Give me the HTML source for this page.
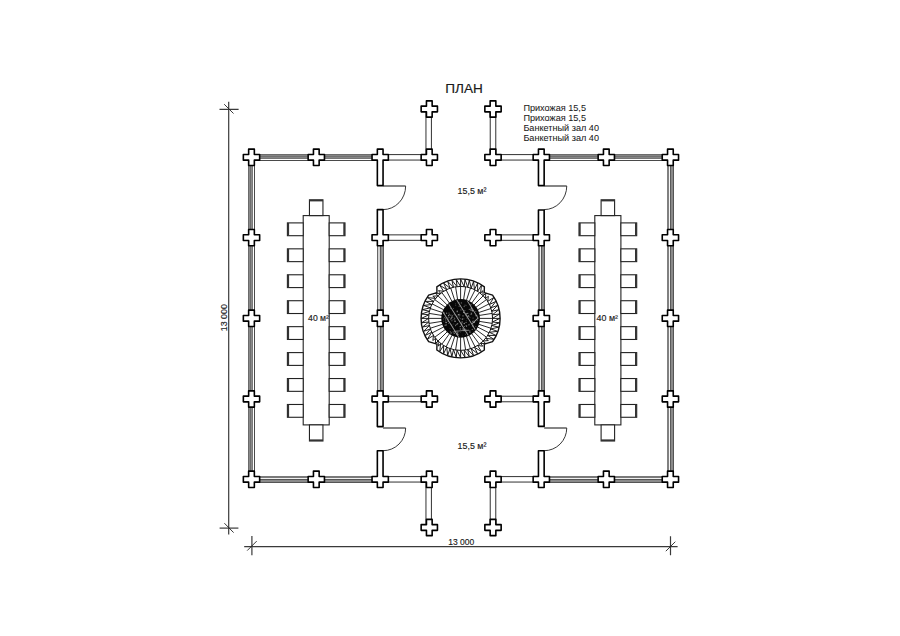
<!DOCTYPE html><html><head><meta charset="utf-8"><style>html,body{margin:0;padding:0;background:#fff;overflow:hidden;width:900px;height:636px;}svg{display:block;}</style></head><body><svg width="900" height="636" viewBox="0 0 900 636">
<rect width="900" height="636" fill="#fff"/>
<g shape-rendering="crispEdges">
<rect x="251.5" y="154" width="128.7" height="1" fill="#6c6c6c"/>
<rect x="251.5" y="155" width="128.7" height="1" fill="#858585"/>
<rect x="251.5" y="156" width="128.7" height="1" fill="#717171"/>
<rect x="251.5" y="157" width="128.7" height="1" fill="#858585"/>
<rect x="251.5" y="158" width="128.7" height="1" fill="#767676"/>
<rect x="251.5" y="160" width="128.7" height="1" fill="#4a4a4a"/>
<rect x="541.3" y="154" width="129.1" height="1" fill="#6c6c6c"/>
<rect x="541.3" y="155" width="129.1" height="1" fill="#858585"/>
<rect x="541.3" y="156" width="129.1" height="1" fill="#717171"/>
<rect x="541.3" y="157" width="129.1" height="1" fill="#858585"/>
<rect x="541.3" y="158" width="129.1" height="1" fill="#767676"/>
<rect x="541.3" y="160" width="129.1" height="1" fill="#4a4a4a"/>
<rect x="251.5" y="476" width="128.7" height="1" fill="#7a7a7a"/>
<rect x="251.5" y="477" width="128.7" height="1" fill="#7a7a7a"/>
<rect x="251.5" y="478" width="128.7" height="1" fill="#f0f0f0"/>
<rect x="251.5" y="479" width="128.7" height="1" fill="#555555"/>
<rect x="251.5" y="480" width="128.7" height="1" fill="#8a8a8a"/>
<rect x="251.5" y="481" width="128.7" height="1" fill="#8a8a8a"/>
<rect x="251.5" y="482" width="128.7" height="1" fill="#555555"/>
<rect x="541.3" y="476" width="129.1" height="1" fill="#7a7a7a"/>
<rect x="541.3" y="477" width="129.1" height="1" fill="#7a7a7a"/>
<rect x="541.3" y="478" width="129.1" height="1" fill="#f0f0f0"/>
<rect x="541.3" y="479" width="129.1" height="1" fill="#555555"/>
<rect x="541.3" y="480" width="129.1" height="1" fill="#8a8a8a"/>
<rect x="541.3" y="481" width="129.1" height="1" fill="#8a8a8a"/>
<rect x="541.3" y="482" width="129.1" height="1" fill="#555555"/>
<rect x="248" y="157.3" width="1" height="322" fill="#6a6a6a"/>
<rect x="249" y="157.3" width="1" height="322" fill="#8a8a8a"/>
<rect x="250" y="157.3" width="1" height="322" fill="#6e6e6e"/>
<rect x="251" y="157.3" width="1" height="322" fill="#8a8a8a"/>
<rect x="252" y="157.3" width="1" height="322" fill="#7a7a7a"/>
<rect x="254" y="157.3" width="1" height="322" fill="#4a4a4a"/>
<rect x="667" y="157.3" width="1" height="322" fill="#808080"/>
<rect x="668" y="157.3" width="1" height="322" fill="#808080"/>
<rect x="669" y="157.3" width="1" height="322" fill="#f5f5f5"/>
<rect x="670" y="157.3" width="1" height="322" fill="#5a5a5a"/>
<rect x="671" y="157.3" width="1" height="322" fill="#8a8a8a"/>
<rect x="672" y="157.3" width="1" height="322" fill="#8a8a8a"/>
<rect x="673" y="157.3" width="1" height="322" fill="#555555"/>
<rect x="377" y="237.6" width="1" height="161.4" fill="#666666"/>
<rect x="378" y="237.6" width="1" height="161.4" fill="#d0d0d0"/>
<rect x="379" y="237.6" width="1" height="161.4" fill="#d0d0d0"/>
<rect x="380" y="237.6" width="1" height="161.4" fill="#555555"/>
<rect x="381" y="237.6" width="1" height="161.4" fill="#8a8a8a"/>
<rect x="382" y="237.6" width="1" height="161.4" fill="#8a8a8a"/>
<rect x="383" y="237.6" width="1" height="161.4" fill="#555555"/>
<rect x="538" y="237.6" width="1" height="161.4" fill="#7a7a7a"/>
<rect x="539" y="237.6" width="1" height="161.4" fill="#7a7a7a"/>
<rect x="540" y="237.6" width="1" height="161.4" fill="#eeeeee"/>
<rect x="541" y="237.6" width="1" height="161.4" fill="#555555"/>
<rect x="542" y="237.6" width="1" height="161.4" fill="#8a8a8a"/>
<rect x="543" y="237.6" width="1" height="161.4" fill="#8a8a8a"/>
<rect x="544" y="237.6" width="1" height="161.4" fill="#555555"/>
</g>
<rect x="380.2" y="154.55" width="49.1" height="5.5" fill="#fff" stroke="#444" stroke-width="1.1"/>
<rect x="493" y="154.55" width="48.3" height="5.5" fill="#fff" stroke="#444" stroke-width="1.1"/>
<rect x="380.2" y="234.85" width="49.1" height="5.5" fill="#fff" stroke="#444" stroke-width="1.1"/>
<rect x="493" y="234.85" width="48.3" height="5.5" fill="#fff" stroke="#444" stroke-width="1.1"/>
<rect x="380.2" y="396.25" width="49.1" height="5.5" fill="#fff" stroke="#444" stroke-width="1.1"/>
<rect x="493" y="396.25" width="48.3" height="5.5" fill="#fff" stroke="#444" stroke-width="1.1"/>
<rect x="380.2" y="476.55" width="49.1" height="5.5" fill="#fff" stroke="#444" stroke-width="1.1"/>
<rect x="493" y="476.55" width="48.3" height="5.5" fill="#fff" stroke="#444" stroke-width="1.1"/>
<rect x="425.95" y="109" width="5.5" height="48.3" fill="#fff" stroke="#444" stroke-width="1.1"/>
<rect x="490.25" y="109" width="5.5" height="48.3" fill="#fff" stroke="#444" stroke-width="1.1"/>
<rect x="425.95" y="479.3" width="5.5" height="48.2" fill="#fff" stroke="#444" stroke-width="1.1"/>
<rect x="490.25" y="479.3" width="5.5" height="48.2" fill="#fff" stroke="#444" stroke-width="1.1"/>
<path d="M383.05,186H405.65" stroke="#222" stroke-width="1.1" fill="none"/>
<path d="M405.65,186A22.6,23.6 0 0 1 383.05,209.6" stroke="#222" stroke-width="0.9" fill="none"/>
<path d="M383.05,428H405.65" stroke="#222" stroke-width="1.1" fill="none"/>
<path d="M405.65,428A22.6,22.7 0 0 1 383.05,450.7" stroke="#222" stroke-width="0.9" fill="none"/>
<path d="M544.15,186H566.75" stroke="#222" stroke-width="1.1" fill="none"/>
<path d="M566.75,186A22.6,23.6 0 0 1 544.15,209.6" stroke="#222" stroke-width="0.9" fill="none"/>
<path d="M544.15,428H566.75" stroke="#222" stroke-width="1.1" fill="none"/>
<path d="M566.75,428A22.6,22.7 0 0 1 544.15,450.7" stroke="#222" stroke-width="0.9" fill="none"/>
<path d="M248.65,149.15H254.35V154.45H259.65V160.15H254.35V165.45H248.65V160.15H243.35V154.45H248.65Z" fill="#fff" stroke="#000" stroke-width="1.6" stroke-linejoin="round"/>
<path d="M313.45,149.15H319.15V154.45H324.45V160.15H319.15V165.45H313.45V160.15H308.15V154.45H313.45Z" fill="#fff" stroke="#000" stroke-width="1.6" stroke-linejoin="round"/>
<path d="M377.35,149.15H383.05V154.45H388.35V160.15H383.05V185.6H377.35V160.15H372.05V154.45H377.35Z" fill="#fff" stroke="#000" stroke-width="1.6" stroke-linejoin="round"/>
<path d="M426.45,149.15H432.15V154.45H437.45V160.15H432.15V165.45H426.45V160.15H421.15V154.45H426.45Z" fill="#fff" stroke="#000" stroke-width="1.6" stroke-linejoin="round"/>
<path d="M490.15,149.15H495.85V154.45H501.15V160.15H495.85V165.45H490.15V160.15H484.85V154.45H490.15Z" fill="#fff" stroke="#000" stroke-width="1.6" stroke-linejoin="round"/>
<path d="M538.45,149.15H544.15V154.45H549.45V160.15H544.15V185.6H538.45V160.15H533.15V154.45H538.45Z" fill="#fff" stroke="#000" stroke-width="1.6" stroke-linejoin="round"/>
<path d="M603.45,149.15H609.15V154.45H614.45V160.15H609.15V165.45H603.45V160.15H598.15V154.45H603.45Z" fill="#fff" stroke="#000" stroke-width="1.6" stroke-linejoin="round"/>
<path d="M667.55,149.15H673.25V154.45H678.55V160.15H673.25V165.45H667.55V160.15H662.25V154.45H667.55Z" fill="#fff" stroke="#000" stroke-width="1.6" stroke-linejoin="round"/>
<path d="M248.65,229.45H254.35V234.75H259.65V240.45H254.35V245.75H248.65V240.45H243.35V234.75H248.65Z" fill="#fff" stroke="#000" stroke-width="1.6" stroke-linejoin="round"/>
<path d="M377.35,209.6H383.05V234.75H388.35V240.45H383.05V245.75H377.35V240.45H372.05V234.75H377.35Z" fill="#fff" stroke="#000" stroke-width="1.6" stroke-linejoin="round"/>
<path d="M426.45,229.45H432.15V234.75H437.45V240.45H432.15V245.75H426.45V240.45H421.15V234.75H426.45Z" fill="#fff" stroke="#000" stroke-width="1.6" stroke-linejoin="round"/>
<path d="M490.15,229.45H495.85V234.75H501.15V240.45H495.85V245.75H490.15V240.45H484.85V234.75H490.15Z" fill="#fff" stroke="#000" stroke-width="1.6" stroke-linejoin="round"/>
<path d="M538.45,210H544.15V234.75H549.45V240.45H544.15V245.75H538.45V240.45H533.15V234.75H538.45Z" fill="#fff" stroke="#000" stroke-width="1.6" stroke-linejoin="round"/>
<path d="M667.55,229.45H673.25V234.75H678.55V240.45H673.25V245.75H667.55V240.45H662.25V234.75H667.55Z" fill="#fff" stroke="#000" stroke-width="1.6" stroke-linejoin="round"/>
<path d="M248.65,310.15H254.35V315.45H259.65V321.15H254.35V326.45H248.65V321.15H243.35V315.45H248.65Z" fill="#fff" stroke="#000" stroke-width="1.6" stroke-linejoin="round"/>
<path d="M377.35,310.15H383.05V315.45H388.35V321.15H383.05V326.45H377.35V321.15H372.05V315.45H377.35Z" fill="#fff" stroke="#000" stroke-width="1.6" stroke-linejoin="round"/>
<path d="M538.45,310.15H544.15V315.45H549.45V321.15H544.15V326.45H538.45V321.15H533.15V315.45H538.45Z" fill="#fff" stroke="#000" stroke-width="1.6" stroke-linejoin="round"/>
<path d="M667.55,310.15H673.25V315.45H678.55V321.15H673.25V326.45H667.55V321.15H662.25V315.45H667.55Z" fill="#fff" stroke="#000" stroke-width="1.6" stroke-linejoin="round"/>
<path d="M248.65,390.85H254.35V396.15H259.65V401.85H254.35V407.15H248.65V401.85H243.35V396.15H248.65Z" fill="#fff" stroke="#000" stroke-width="1.6" stroke-linejoin="round"/>
<path d="M377.35,390.85H383.05V396.15H388.35V401.85H383.05V426.6H377.35V401.85H372.05V396.15H377.35Z" fill="#fff" stroke="#000" stroke-width="1.6" stroke-linejoin="round"/>
<path d="M426.45,390.85H432.15V396.15H437.45V401.85H432.15V407.15H426.45V401.85H421.15V396.15H426.45Z" fill="#fff" stroke="#000" stroke-width="1.6" stroke-linejoin="round"/>
<path d="M490.15,390.85H495.85V396.15H501.15V401.85H495.85V407.15H490.15V401.85H484.85V396.15H490.15Z" fill="#fff" stroke="#000" stroke-width="1.6" stroke-linejoin="round"/>
<path d="M538.45,390.85H544.15V396.15H549.45V401.85H544.15V426.4H538.45V401.85H533.15V396.15H538.45Z" fill="#fff" stroke="#000" stroke-width="1.6" stroke-linejoin="round"/>
<path d="M667.55,390.85H673.25V396.15H678.55V401.85H673.25V407.15H667.55V401.85H662.25V396.15H667.55Z" fill="#fff" stroke="#000" stroke-width="1.6" stroke-linejoin="round"/>
<path d="M248.65,471.15H254.35V476.45H259.65V482.15H254.35V487.45H248.65V482.15H243.35V476.45H248.65Z" fill="#fff" stroke="#000" stroke-width="1.6" stroke-linejoin="round"/>
<path d="M313.45,471.15H319.15V476.45H324.45V482.15H319.15V487.45H313.45V482.15H308.15V476.45H313.45Z" fill="#fff" stroke="#000" stroke-width="1.6" stroke-linejoin="round"/>
<path d="M377.35,450.7H383.05V476.45H388.35V482.15H383.05V487.45H377.35V482.15H372.05V476.45H377.35Z" fill="#fff" stroke="#000" stroke-width="1.6" stroke-linejoin="round"/>
<path d="M426.45,471.15H432.15V476.45H437.45V482.15H432.15V487.45H426.45V482.15H421.15V476.45H426.45Z" fill="#fff" stroke="#000" stroke-width="1.6" stroke-linejoin="round"/>
<path d="M490.15,471.15H495.85V476.45H501.15V482.15H495.85V487.45H490.15V482.15H484.85V476.45H490.15Z" fill="#fff" stroke="#000" stroke-width="1.6" stroke-linejoin="round"/>
<path d="M538.45,450.7H544.15V476.45H549.45V482.15H544.15V487.45H538.45V482.15H533.15V476.45H538.45Z" fill="#fff" stroke="#000" stroke-width="1.6" stroke-linejoin="round"/>
<path d="M603.45,471.15H609.15V476.45H614.45V482.15H609.15V487.45H603.45V482.15H598.15V476.45H603.45Z" fill="#fff" stroke="#000" stroke-width="1.6" stroke-linejoin="round"/>
<path d="M667.55,471.15H673.25V476.45H678.55V482.15H673.25V487.45H667.55V482.15H662.25V476.45H667.55Z" fill="#fff" stroke="#000" stroke-width="1.6" stroke-linejoin="round"/>
<path d="M426.45,100.85H432.15V106.15H437.45V111.85H432.15V117.15H426.45V111.85H421.15V106.15H426.45Z" fill="#fff" stroke="#000" stroke-width="1.6" stroke-linejoin="round"/>
<path d="M426.45,519.35H432.15V524.65H437.45V530.35H432.15V535.65H426.45V530.35H421.15V524.65H426.45Z" fill="#fff" stroke="#000" stroke-width="1.6" stroke-linejoin="round"/>
<path d="M490.15,100.85H495.85V106.15H501.15V111.85H495.85V117.15H490.15V111.85H484.85V106.15H490.15Z" fill="#fff" stroke="#000" stroke-width="1.6" stroke-linejoin="round"/>
<path d="M490.15,519.35H495.85V524.65H501.15V530.35H495.85V535.65H490.15V530.35H484.85V524.65H490.15Z" fill="#fff" stroke="#000" stroke-width="1.6" stroke-linejoin="round"/>
<rect x="303.2" y="215.6" width="26" height="209.3" fill="#fff" stroke="#222" stroke-width="1.1"/>
<rect x="309.45" y="199.8" width="13.5" height="15.8" fill="#fff" stroke="#222" stroke-width="1.1"/>
<rect x="309.45" y="199.8" width="13.5" height="1.6" fill="#333"/>
<rect x="309.45" y="424.9" width="13.5" height="16.1" fill="#fff" stroke="#222" stroke-width="1.1"/>
<rect x="309.45" y="439.4" width="13.5" height="1.6" fill="#333"/>
<rect x="287.4" y="222.9" width="15.8" height="12.8" fill="#fff" stroke="#222" stroke-width="1.1"/>
<rect x="287.4" y="222.9" width="1.7" height="12.8" fill="#333"/>
<rect x="329.2" y="222.9" width="15.8" height="12.8" fill="#fff" stroke="#222" stroke-width="1.1"/>
<rect x="343.3" y="222.9" width="1.7" height="12.8" fill="#333"/>
<rect x="287.4" y="248.84" width="15.8" height="12.8" fill="#fff" stroke="#222" stroke-width="1.1"/>
<rect x="287.4" y="248.84" width="1.7" height="12.8" fill="#333"/>
<rect x="329.2" y="248.84" width="15.8" height="12.8" fill="#fff" stroke="#222" stroke-width="1.1"/>
<rect x="343.3" y="248.84" width="1.7" height="12.8" fill="#333"/>
<rect x="287.4" y="274.78" width="15.8" height="12.8" fill="#fff" stroke="#222" stroke-width="1.1"/>
<rect x="287.4" y="274.78" width="1.7" height="12.8" fill="#333"/>
<rect x="329.2" y="274.78" width="15.8" height="12.8" fill="#fff" stroke="#222" stroke-width="1.1"/>
<rect x="343.3" y="274.78" width="1.7" height="12.8" fill="#333"/>
<rect x="287.4" y="300.72" width="15.8" height="12.8" fill="#fff" stroke="#222" stroke-width="1.1"/>
<rect x="287.4" y="300.72" width="1.7" height="12.8" fill="#333"/>
<rect x="329.2" y="300.72" width="15.8" height="12.8" fill="#fff" stroke="#222" stroke-width="1.1"/>
<rect x="343.3" y="300.72" width="1.7" height="12.8" fill="#333"/>
<rect x="287.4" y="326.66" width="15.8" height="12.8" fill="#fff" stroke="#222" stroke-width="1.1"/>
<rect x="287.4" y="326.66" width="1.7" height="12.8" fill="#333"/>
<rect x="329.2" y="326.66" width="15.8" height="12.8" fill="#fff" stroke="#222" stroke-width="1.1"/>
<rect x="343.3" y="326.66" width="1.7" height="12.8" fill="#333"/>
<rect x="287.4" y="352.6" width="15.8" height="12.8" fill="#fff" stroke="#222" stroke-width="1.1"/>
<rect x="287.4" y="352.6" width="1.7" height="12.8" fill="#333"/>
<rect x="329.2" y="352.6" width="15.8" height="12.8" fill="#fff" stroke="#222" stroke-width="1.1"/>
<rect x="343.3" y="352.6" width="1.7" height="12.8" fill="#333"/>
<rect x="287.4" y="378.54" width="15.8" height="12.8" fill="#fff" stroke="#222" stroke-width="1.1"/>
<rect x="287.4" y="378.54" width="1.7" height="12.8" fill="#333"/>
<rect x="329.2" y="378.54" width="15.8" height="12.8" fill="#fff" stroke="#222" stroke-width="1.1"/>
<rect x="343.3" y="378.54" width="1.7" height="12.8" fill="#333"/>
<rect x="287.4" y="404.48" width="15.8" height="12.8" fill="#fff" stroke="#222" stroke-width="1.1"/>
<rect x="287.4" y="404.48" width="1.7" height="12.8" fill="#333"/>
<rect x="329.2" y="404.48" width="15.8" height="12.8" fill="#fff" stroke="#222" stroke-width="1.1"/>
<rect x="343.3" y="404.48" width="1.7" height="12.8" fill="#333"/>
<rect x="594.8" y="215.6" width="26.1" height="209.3" fill="#fff" stroke="#222" stroke-width="1.1"/>
<rect x="601.1" y="199.8" width="13.5" height="15.8" fill="#fff" stroke="#222" stroke-width="1.1"/>
<rect x="601.1" y="199.8" width="13.5" height="1.6" fill="#333"/>
<rect x="601.1" y="424.9" width="13.5" height="16.1" fill="#fff" stroke="#222" stroke-width="1.1"/>
<rect x="601.1" y="439.4" width="13.5" height="1.6" fill="#333"/>
<rect x="579" y="222.9" width="15.8" height="12.8" fill="#fff" stroke="#222" stroke-width="1.1"/>
<rect x="579" y="222.9" width="1.7" height="12.8" fill="#333"/>
<rect x="620.9" y="222.9" width="15.8" height="12.8" fill="#fff" stroke="#222" stroke-width="1.1"/>
<rect x="635" y="222.9" width="1.7" height="12.8" fill="#333"/>
<rect x="579" y="248.84" width="15.8" height="12.8" fill="#fff" stroke="#222" stroke-width="1.1"/>
<rect x="579" y="248.84" width="1.7" height="12.8" fill="#333"/>
<rect x="620.9" y="248.84" width="15.8" height="12.8" fill="#fff" stroke="#222" stroke-width="1.1"/>
<rect x="635" y="248.84" width="1.7" height="12.8" fill="#333"/>
<rect x="579" y="274.78" width="15.8" height="12.8" fill="#fff" stroke="#222" stroke-width="1.1"/>
<rect x="579" y="274.78" width="1.7" height="12.8" fill="#333"/>
<rect x="620.9" y="274.78" width="15.8" height="12.8" fill="#fff" stroke="#222" stroke-width="1.1"/>
<rect x="635" y="274.78" width="1.7" height="12.8" fill="#333"/>
<rect x="579" y="300.72" width="15.8" height="12.8" fill="#fff" stroke="#222" stroke-width="1.1"/>
<rect x="579" y="300.72" width="1.7" height="12.8" fill="#333"/>
<rect x="620.9" y="300.72" width="15.8" height="12.8" fill="#fff" stroke="#222" stroke-width="1.1"/>
<rect x="635" y="300.72" width="1.7" height="12.8" fill="#333"/>
<rect x="579" y="326.66" width="15.8" height="12.8" fill="#fff" stroke="#222" stroke-width="1.1"/>
<rect x="579" y="326.66" width="1.7" height="12.8" fill="#333"/>
<rect x="620.9" y="326.66" width="15.8" height="12.8" fill="#fff" stroke="#222" stroke-width="1.1"/>
<rect x="635" y="326.66" width="1.7" height="12.8" fill="#333"/>
<rect x="579" y="352.6" width="15.8" height="12.8" fill="#fff" stroke="#222" stroke-width="1.1"/>
<rect x="579" y="352.6" width="1.7" height="12.8" fill="#333"/>
<rect x="620.9" y="352.6" width="15.8" height="12.8" fill="#fff" stroke="#222" stroke-width="1.1"/>
<rect x="635" y="352.6" width="1.7" height="12.8" fill="#333"/>
<rect x="579" y="378.54" width="15.8" height="12.8" fill="#fff" stroke="#222" stroke-width="1.1"/>
<rect x="579" y="378.54" width="1.7" height="12.8" fill="#333"/>
<rect x="620.9" y="378.54" width="15.8" height="12.8" fill="#fff" stroke="#222" stroke-width="1.1"/>
<rect x="635" y="378.54" width="1.7" height="12.8" fill="#333"/>
<rect x="579" y="404.48" width="15.8" height="12.8" fill="#fff" stroke="#222" stroke-width="1.1"/>
<rect x="579" y="404.48" width="1.7" height="12.8" fill="#333"/>
<rect x="620.9" y="404.48" width="15.8" height="12.8" fill="#fff" stroke="#222" stroke-width="1.1"/>
<rect x="635" y="404.48" width="1.7" height="12.8" fill="#333"/>
<path d="M492.56,341.62A39.5,39.5 0 0 0 492.56,295.18L484.25,292.6L484.37,286.85A39.5,39.5 0 0 0 436.83,286.85L436.95,292.6L428.64,295.18A39.5,39.5 0 0 0 428.64,341.62L436.95,344.2L436.83,349.95A39.5,39.5 0 0 0 484.37,349.95L484.25,344.2L492.56,341.62Z" fill="#fff" stroke="#111" stroke-width="1.4" stroke-linejoin="round"/>
<path d="M492.6,318.4L499.8,318.4M492.6,318.4L499.55,314.01M492.4,314.82L499.55,314.01M492.4,314.82L498.82,309.68M491.8,311.28L498.82,309.68M491.8,311.28L497.6,305.45M490.8,307.83L497.6,305.45M490.8,307.83L495.92,301.39M489.43,304.52L495.92,301.39M489.43,304.52L493.79,297.54M487.7,301.37L493.79,297.54M487.7,301.37L488.36,296.27M485.62,298.45L488.36,296.27M485.62,298.45L485.7,293.3M483.23,295.77L485.7,293.3M483.23,295.77L482.73,290.64M480.55,293.38L482.73,290.64M480.55,293.38L481.46,285.21M477.63,291.3L481.46,285.21M477.63,291.3L477.61,283.08M474.48,289.57L477.61,283.08M474.48,289.57L473.55,281.4M471.17,288.2L473.55,281.4M471.17,288.2L469.32,280.18M467.72,287.2L469.32,280.18M467.72,287.2L464.99,279.45M464.18,286.6L464.99,279.45M464.18,286.6L460.6,279.2M460.6,286.4L460.6,279.2M460.6,286.4L456.21,279.45M457.02,286.6L456.21,279.45M457.02,286.6L451.88,280.18M453.48,287.2L451.88,280.18M453.48,287.2L447.65,281.4M450.03,288.2L447.65,281.4M450.03,288.2L443.59,283.08M446.72,289.57L443.59,283.08M446.72,289.57L439.74,285.21M443.57,291.3L439.74,285.21M443.57,291.3L438.47,290.64M440.65,293.38L438.47,290.64M440.65,293.38L435.5,293.3M437.97,295.77L435.5,293.3M437.97,295.77L432.84,296.27M435.58,298.45L432.84,296.27M435.58,298.45L427.41,297.54M433.5,301.37L427.41,297.54M433.5,301.37L425.28,301.39M431.77,304.52L425.28,301.39M431.77,304.52L423.6,305.45M430.4,307.83L423.6,305.45M430.4,307.83L422.38,309.68M429.4,311.28L422.38,309.68M429.4,311.28L421.65,314.01M428.8,314.82L421.65,314.01M428.8,314.82L421.4,318.4M428.6,318.4L421.4,318.4M428.6,318.4L421.65,322.79M428.8,321.98L421.65,322.79M428.8,321.98L422.38,327.12M429.4,325.52L422.38,327.12M429.4,325.52L423.6,331.35M430.4,328.97L423.6,331.35M430.4,328.97L425.28,335.41M431.77,332.28L425.28,335.41M431.77,332.28L427.41,339.26M433.5,335.43L427.41,339.26M433.5,335.43L432.84,340.53M435.58,338.35L432.84,340.53M435.58,338.35L435.5,343.5M437.97,341.03L435.5,343.5M437.97,341.03L438.47,346.16M440.65,343.42L438.47,346.16M440.65,343.42L439.74,351.59M443.57,345.5L439.74,351.59M443.57,345.5L443.59,353.72M446.72,347.23L443.59,353.72M446.72,347.23L447.65,355.4M450.03,348.6L447.65,355.4M450.03,348.6L451.88,356.62M453.48,349.6L451.88,356.62M453.48,349.6L456.21,357.35M457.02,350.2L456.21,357.35M457.02,350.2L460.6,357.6M460.6,350.4L460.6,357.6M460.6,350.4L464.99,357.35M464.18,350.2L464.99,357.35M464.18,350.2L469.32,356.62M467.72,349.6L469.32,356.62M467.72,349.6L473.55,355.4M471.17,348.6L473.55,355.4M471.17,348.6L477.61,353.72M474.48,347.23L477.61,353.72M474.48,347.23L481.46,351.59M477.63,345.5L481.46,351.59M477.63,345.5L482.73,346.16M480.55,343.42L482.73,346.16M480.55,343.42L485.7,343.5M483.23,341.03L485.7,343.5M483.23,341.03L488.36,340.53M485.62,338.35L488.36,340.53M485.62,338.35L493.79,339.26M487.7,335.43L493.79,339.26M487.7,335.43L495.92,335.41M489.43,332.28L495.92,335.41M489.43,332.28L497.6,331.35M490.8,328.97L497.6,331.35M490.8,328.97L498.82,327.12M491.8,325.52L498.82,327.12M491.8,325.52L499.55,322.79M492.4,321.98L499.55,322.79M492.4,321.98L499.8,318.4" stroke="#111" stroke-width="0.95" fill="none"/>
<circle cx="460.6" cy="318.4" r="32.0" fill="none" stroke="#111" stroke-width="1.0"/>
<path d="M479.45,318.4L492.6,318.4M479.22,315.45L492.21,313.39M478.53,312.58L491.03,308.51M477.4,309.84L489.11,303.87M475.85,307.32L486.49,299.59M473.93,305.07L483.23,295.77M471.68,303.15L479.41,292.51M469.16,301.6L475.13,289.89M466.42,300.47L470.49,287.97M463.55,299.78L465.61,286.79M460.6,299.55L460.6,286.4M457.65,299.78L455.59,286.79M454.78,300.47L450.71,287.97M452.04,301.6L446.07,289.89M449.52,303.15L441.79,292.51M447.27,305.07L437.97,295.77M445.35,307.32L434.71,299.59M443.8,309.84L432.09,303.87M442.67,312.58L430.17,308.51M441.98,315.45L428.99,313.39M441.75,318.4L428.6,318.4M441.98,321.35L428.99,323.41M442.67,324.22L430.17,328.29M443.8,326.96L432.09,332.93M445.35,329.48L434.71,337.21M447.27,331.73L437.97,341.03M449.52,333.65L441.79,344.29M452.04,335.2L446.07,346.91M454.78,336.33L450.71,348.83M457.65,337.02L455.59,350.01M460.6,337.25L460.6,350.4M463.55,337.02L465.61,350.01M466.42,336.33L470.49,348.83M469.16,335.2L475.13,346.91M471.68,333.65L479.41,344.29M473.93,331.73L483.23,341.03M475.85,329.48L486.49,337.21M477.4,326.96L489.11,332.93M478.53,324.22L491.03,328.29M479.22,321.35L492.21,323.41" stroke="#111" stroke-width="0.9" fill="none"/>
<circle cx="460.6" cy="318.4" r="19.35" fill="#080808"/>
<defs><clipPath id="dk"><circle cx="460.6" cy="318.4" r="18.55"/></clipPath></defs>
<g><circle cx="466.41" cy="326.49" r="0.37" fill="#aaa"/><circle cx="473.77" cy="327.24" r="0.38" fill="#444"/><circle cx="472.72" cy="321.31" r="0.54" fill="#999"/><circle cx="452.45" cy="315.69" r="0.72" fill="#555"/><circle cx="461.63" cy="324.47" r="0.61" fill="#aaa"/><circle cx="456.86" cy="316.17" r="0.79" fill="#555"/><circle cx="462.98" cy="315.47" r="0.54" fill="#777"/><circle cx="448.99" cy="312.85" r="0.72" fill="#444"/><circle cx="454.12" cy="314.75" r="0.43" fill="#aaa"/><circle cx="459.31" cy="313.09" r="0.38" fill="#444"/><circle cx="457.24" cy="311.21" r="0.7" fill="#999"/><circle cx="471.19" cy="312.87" r="0.48" fill="#777"/><circle cx="455.69" cy="303.6" r="0.39" fill="#666"/><circle cx="451.02" cy="318.69" r="0.68" fill="#777"/><circle cx="469.92" cy="317.23" r="0.58" fill="#555"/><circle cx="456.71" cy="324.35" r="0.54" fill="#999"/><circle cx="475.76" cy="326.44" r="0.61" fill="#444"/><circle cx="454.22" cy="333.48" r="0.51" fill="#aaa"/><circle cx="464.18" cy="306.6" r="0.73" fill="#555"/><circle cx="443.82" cy="321.16" r="0.38" fill="#aaa"/><circle cx="455.13" cy="332.33" r="0.8" fill="#444"/><circle cx="457.18" cy="333.89" r="0.75" fill="#999"/><circle cx="470.2" cy="314.64" r="0.43" fill="#777"/><circle cx="466.18" cy="320.57" r="0.41" fill="#777"/><circle cx="453.86" cy="323.91" r="0.39" fill="#999"/><circle cx="449.43" cy="314.81" r="0.72" fill="#666"/><circle cx="457.71" cy="334.41" r="0.79" fill="#999"/><circle cx="450.03" cy="328.27" r="0.42" fill="#666"/><circle cx="461.43" cy="325.7" r="0.36" fill="#666"/><circle cx="467.18" cy="332.93" r="0.35" fill="#777"/><circle cx="452.88" cy="326.69" r="0.49" fill="#444"/><circle cx="464.53" cy="313.6" r="0.64" fill="#444"/><circle cx="446.1" cy="322.45" r="0.71" fill="#aaa"/><circle cx="451.77" cy="324.9" r="0.57" fill="#555"/><circle cx="464.64" cy="328.71" r="0.55" fill="#666"/><circle cx="455.92" cy="314.97" r="0.35" fill="#555"/><circle cx="466.07" cy="322.45" r="0.63" fill="#777"/><circle cx="461.81" cy="322.88" r="0.42" fill="#999"/><circle cx="455.55" cy="325.59" r="0.56" fill="#777"/><circle cx="454.67" cy="318.85" r="0.57" fill="#999"/><circle cx="466.63" cy="326.09" r="0.5" fill="#aaa"/><circle cx="464.88" cy="310.48" r="0.58" fill="#666"/><circle cx="468.17" cy="316.05" r="0.42" fill="#777"/><circle cx="473.31" cy="320.58" r="0.48" fill="#444"/><circle cx="472.4" cy="325.99" r="0.58" fill="#777"/><circle cx="450.32" cy="331.53" r="0.59" fill="#666"/><circle cx="453.19" cy="331.95" r="0.63" fill="#666"/><circle cx="461.41" cy="302.88" r="0.71" fill="#666"/><circle cx="459.59" cy="302.6" r="0.44" fill="#666"/><circle cx="459.14" cy="306.2" r="0.71" fill="#555"/><circle cx="464.77" cy="329.68" r="0.78" fill="#444"/><circle cx="471.4" cy="313.89" r="0.78" fill="#777"/><circle cx="462.55" cy="328.79" r="0.56" fill="#666"/><circle cx="450.49" cy="319.51" r="0.73" fill="#444"/><circle cx="453.66" cy="308.47" r="0.39" fill="#aaa"/><circle cx="472.6" cy="310.76" r="0.69" fill="#aaa"/><circle cx="465.85" cy="329.3" r="0.5" fill="#aaa"/><circle cx="476.01" cy="315.63" r="0.56" fill="#999"/><circle cx="473.59" cy="326.07" r="0.43" fill="#666"/><circle cx="464.23" cy="323.47" r="0.71" fill="#999"/><circle cx="463.69" cy="312.47" r="0.65" fill="#999"/><circle cx="450.72" cy="315.28" r="0.36" fill="#666"/><circle cx="458.29" cy="302.93" r="0.59" fill="#555"/><circle cx="445.13" cy="325.23" r="0.72" fill="#666"/><circle cx="460.51" cy="326.44" r="0.58" fill="#777"/><circle cx="453.57" cy="331.98" r="0.54" fill="#444"/><circle cx="465.95" cy="315.01" r="0.75" fill="#777"/><circle cx="466.26" cy="305.33" r="0.54" fill="#444"/><circle cx="443.84" cy="318.23" r="0.42" fill="#444"/><circle cx="469.32" cy="309.44" r="0.62" fill="#666"/><circle cx="469.68" cy="330.86" r="0.56" fill="#666"/><circle cx="446.63" cy="313.22" r="0.66" fill="#777"/><circle cx="447.93" cy="319.8" r="0.75" fill="#555"/><circle cx="462.1" cy="322.29" r="0.7" fill="#555"/><circle cx="449.06" cy="313.68" r="0.55" fill="#555"/><circle cx="446.91" cy="317.92" r="0.44" fill="#444"/><circle cx="451.4" cy="317.93" r="0.58" fill="#999"/><circle cx="451.98" cy="317.13" r="0.77" fill="#777"/><circle cx="465.45" cy="334.21" r="0.41" fill="#999"/><circle cx="454.9" cy="320.57" r="0.65" fill="#555"/><circle cx="463.26" cy="329.54" r="0.7" fill="#777"/><circle cx="469.96" cy="332.08" r="0.64" fill="#aaa"/><circle cx="460.39" cy="328.99" r="0.79" fill="#666"/><circle cx="468.44" cy="315.99" r="0.75" fill="#999"/><circle cx="457.11" cy="312.26" r="0.42" fill="#666"/><circle cx="449.16" cy="317.27" r="0.54" fill="#777"/><circle cx="469.35" cy="324.12" r="0.36" fill="#777"/><circle cx="448.47" cy="323.16" r="0.52" fill="#555"/><circle cx="457.05" cy="330.48" r="0.4" fill="#555"/><circle cx="462.85" cy="335.02" r="0.39" fill="#555"/><circle cx="468.18" cy="313.31" r="0.47" fill="#666"/><circle cx="455.04" cy="321.36" r="0.72" fill="#aaa"/><circle cx="465.86" cy="325.58" r="0.61" fill="#444"/><circle cx="472.99" cy="326.21" r="0.71" fill="#555"/><circle cx="466.53" cy="313.82" r="0.77" fill="#777"/><circle cx="465.04" cy="305.19" r="0.62" fill="#555"/><circle cx="459.85" cy="326.62" r="0.55" fill="#555"/><circle cx="450.97" cy="315.06" r="0.63" fill="#777"/><circle cx="459.69" cy="314.88" r="0.79" fill="#555"/><circle cx="464.35" cy="326.53" r="0.63" fill="#777"/><circle cx="464.09" cy="330.67" r="0.58" fill="#999"/><circle cx="456.37" cy="324.45" r="0.8" fill="#555"/><circle cx="463.94" cy="318.79" r="0.6" fill="#444"/><circle cx="453.08" cy="319.6" r="0.4" fill="#999"/><circle cx="446.18" cy="324.95" r="0.6" fill="#999"/><circle cx="476.81" cy="315.34" r="0.66" fill="#777"/><circle cx="451.06" cy="332.89" r="0.68" fill="#aaa"/><circle cx="467.13" cy="317.97" r="0.73" fill="#555"/><circle cx="459.13" cy="316.92" r="0.54" fill="#777"/><circle cx="458.51" cy="314.85" r="0.74" fill="#999"/><circle cx="457.74" cy="332.44" r="0.66" fill="#666"/><circle cx="462.07" cy="321.82" r="0.55" fill="#777"/><circle cx="469.32" cy="316.26" r="0.5" fill="#444"/><circle cx="463" cy="316.21" r="0.51" fill="#666"/><circle cx="460.18" cy="318.79" r="0.48" fill="#999"/><circle cx="460.76" cy="332.57" r="0.39" fill="#555"/><circle cx="470.38" cy="330.83" r="0.37" fill="#444"/><circle cx="459.72" cy="320.87" r="0.39" fill="#666"/><circle cx="470.95" cy="304.75" r="0.65" fill="#666"/><circle cx="471.34" cy="308.2" r="0.69" fill="#999"/><circle cx="445.75" cy="318.94" r="0.68" fill="#777"/><circle cx="474.11" cy="322.21" r="0.75" fill="#aaa"/><circle cx="459.2" cy="304.61" r="0.41" fill="#444"/><circle cx="447.94" cy="318.05" r="0.72" fill="#555"/><circle cx="471.05" cy="310.06" r="0.78" fill="#aaa"/><circle cx="472.67" cy="325.55" r="0.41" fill="#555"/><circle cx="468.91" cy="324.84" r="0.6" fill="#999"/><circle cx="450.87" cy="308.52" r="0.46" fill="#aaa"/><circle cx="451.94" cy="320.8" r="0.69" fill="#555"/><circle cx="448.49" cy="315.68" r="0.59" fill="#aaa"/><circle cx="445.69" cy="320.87" r="0.73" fill="#555"/><circle cx="460.94" cy="309.93" r="0.68" fill="#666"/><circle cx="443.33" cy="319.06" r="0.38" fill="#999"/><circle cx="456.72" cy="334.64" r="0.63" fill="#555"/><circle cx="473" cy="324.96" r="0.5" fill="#666"/><circle cx="455.64" cy="305.17" r="0.61" fill="#444"/><circle cx="462.41" cy="319.13" r="0.79" fill="#777"/><circle cx="461.71" cy="323.81" r="0.48" fill="#999"/><circle cx="448.33" cy="321.17" r="0.7" fill="#999"/><circle cx="443.98" cy="313.11" r="0.79" fill="#777"/><circle cx="477.43" cy="320.26" r="0.38" fill="#999"/><circle cx="473.05" cy="317.98" r="0.52" fill="#777"/><circle cx="475.78" cy="311.32" r="0.61" fill="#555"/><circle cx="454.09" cy="317.41" r="0.41" fill="#777"/><circle cx="444.77" cy="317.53" r="0.67" fill="#555"/><circle cx="467.34" cy="313.35" r="0.53" fill="#999"/><circle cx="467.24" cy="316.24" r="0.55" fill="#aaa"/><circle cx="466.7" cy="325.84" r="0.52" fill="#777"/><circle cx="457.62" cy="323.71" r="0.69" fill="#777"/><circle cx="472.28" cy="329.38" r="0.67" fill="#666"/></g>
<g clip-path="url(#dk)"><g transform="translate(460.6,318.4) rotate(-32)" fill="none" stroke="#a0a0a0" stroke-width="0.9"><path d="M-11.5,-20V20M-2.5,-20V20M6.5,-20V20M15,-20V9L7,10.6M-12.5,7.5L1,14.5"/></g></g>
<text x="445.2" y="92.7" font-family="Liberation Sans, sans-serif" font-size="12.6" fill="#1a1a1a" stroke="#1a1a1a" stroke-width="0.15" textLength="37.6" lengthAdjust="spacingAndGlyphs" >ПЛАН</text>
<text x="523.4" y="110.7" font-family="Liberation Sans, sans-serif" font-size="9.0" fill="#1a1a1a" stroke="#1a1a1a" stroke-width="0.06" textLength="62.6" lengthAdjust="spacingAndGlyphs" >Прихожая 15,5</text>
<text x="523.4" y="120.8" font-family="Liberation Sans, sans-serif" font-size="9.0" fill="#1a1a1a" stroke="#1a1a1a" stroke-width="0.06" textLength="62.6" lengthAdjust="spacingAndGlyphs" >Прихожая 15,5</text>
<text x="523.4" y="130.9" font-family="Liberation Sans, sans-serif" font-size="9.0" fill="#1a1a1a" stroke="#1a1a1a" stroke-width="0.06" textLength="75.6" lengthAdjust="spacingAndGlyphs" >Банкетный зал 40</text>
<text x="523.4" y="141" font-family="Liberation Sans, sans-serif" font-size="9.0" fill="#1a1a1a" stroke="#1a1a1a" stroke-width="0.06" textLength="75.6" lengthAdjust="spacingAndGlyphs" >Банкетный зал 40</text>
<text x="457.6" y="193.5" font-family="Liberation Sans, sans-serif" font-size="8.9" fill="#1a1a1a" stroke="#1a1a1a" stroke-width="0.15" textLength="28.8" lengthAdjust="spacingAndGlyphs" >15,5 м²</text>
<text x="457.6" y="448.5" font-family="Liberation Sans, sans-serif" font-size="8.9" fill="#1a1a1a" stroke="#1a1a1a" stroke-width="0.15" textLength="28.8" lengthAdjust="spacingAndGlyphs" >15,5 м²</text>
<text x="308.1" y="321.2" font-family="Liberation Sans, sans-serif" font-size="8.6" fill="#1a1a1a" stroke="#1a1a1a" stroke-width="0.15" textLength="20.8" lengthAdjust="spacingAndGlyphs" >40 м²</text>
<text x="596.6" y="321.2" font-family="Liberation Sans, sans-serif" font-size="8.6" fill="#1a1a1a" stroke="#1a1a1a" stroke-width="0.15" textLength="21.4" lengthAdjust="spacingAndGlyphs" >40 м²</text>
<path d="M228.7,101.7V534.6M219.5,109.3H238.6" stroke="#3a3a3a" stroke-width="1.2" fill="none"/>
<path d="M219.6,528.1H238.4" stroke="#3a3a3a" stroke-width="1.2" fill="none"/>
<path d="M224.2,104.2L233.5,113.5M224.4,523.2L233.6,532.6" stroke="#222" stroke-width="0.9" fill="none"/>
<path d="M244.2,546.6H677.6M251.9,536V555.2M670.5,536.2V555.2" stroke="#3a3a3a" stroke-width="1.2" fill="none"/>
<path d="M247.2,550.6L256.7,541.1M665.8,551.2L675.3,541.7" stroke="#222" stroke-width="0.9" fill="none"/>
<text x="448.2" y="544.8" font-family="Liberation Sans, sans-serif" font-size="9.4" fill="#1a1a1a" stroke="#1a1a1a" stroke-width="0.15" textLength="26.0" lengthAdjust="spacingAndGlyphs" >13 000</text>
<text transform="translate(227.0,331.2) rotate(-90)" font-family="Liberation Sans, sans-serif" font-size="9.2" fill="#1a1a1a" stroke="#1a1a1a" stroke-width="0.15" textLength="27" lengthAdjust="spacingAndGlyphs">13 000</text>
</svg></body></html>
